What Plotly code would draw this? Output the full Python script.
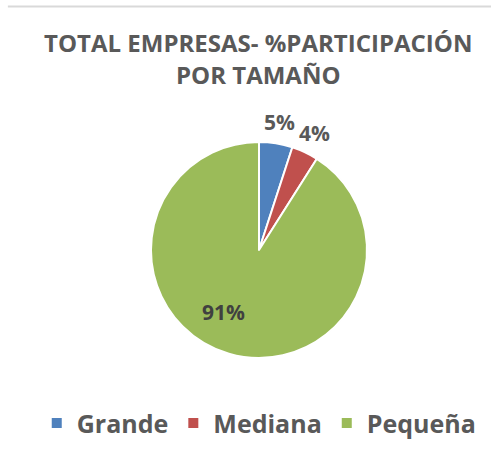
import math
import plotly.graph_objects as go

categories = ["Grande", "Mediana", "Pequeña"]
values = [5, 4, 91]
colors = ["#4F81BD", "#C0504D", "#9BBB59"]

W, H = 491, 456
CX, CY, R = 259, 250, 108  # pie centre / radius in px

fig = go.Figure(go.Pie(
    labels=categories,
    values=values,
    sort=False,
    direction="clockwise",
    rotation=0,
    marker=dict(colors=colors, line=dict(color="white", width=2)),
    textinfo="none",
    hoverinfo="label+percent",
    domain=dict(x=[(CX - R) / W, (CX + R) / W], y=[(H - CY - R) / H, (H - CY + R) / H]),
    showlegend=True,
))

# data labels derived from the values (angle of slice middle)
total = sum(values)
annotations = []
cum = 0
for i, v in enumerate(values):
    mid = (cum + v / 2) / total * 360
    cum += v
    if v / total < 0.2:
        rf, ang, col = 1.2, mid, "#595959"
    else:
        rf, ang, col = 0.66, mid + 14, "#404040"
    a = math.radians(ang)
    px = CX + rf * R * math.sin(a)
    py = CY - rf * R * math.cos(a)
    annotations.append(dict(
        x=px / W, y=1 - py / H, xref="paper", yref="paper",
        text=f"<b>{round(v / total * 100)}%</b>", showarrow=False,
        xanchor="center", yanchor="middle",
        font=dict(family="Open Sans", size=21, color=col),
    ))

fig.update_layout(
    width=W, height=H,
    margin=dict(l=0, r=0, t=0, b=0),
    paper_bgcolor="white",
    title=dict(
        text="<b>TOTAL EMPRESAS- %PARTICIPACIÓN<br>POR TAMAÑO</b>",
        x=0.526, xanchor="center", y=0.885, yanchor="top",
        font=dict(family="Open Sans", size=24, color="#595959"),
    ),
    legend=dict(
        orientation="h", x=0.528, xanchor="center", y=0.072, yanchor="middle",
        font=dict(family="Open Sans", size=25, color="#595959", weight="bold"),
        itemwidth=30,
    ),
    annotations=annotations,
    shapes=[dict(type="line", xref="paper", yref="paper", x0=0.016, x1=1, y0=0.986, y1=0.986,
                 line=dict(color="#D9D9D9", width=2))],
)

fig.write_html("out.html", config={"displayModeBar": False},
               post_script="document.body.style.margin='0px';")
